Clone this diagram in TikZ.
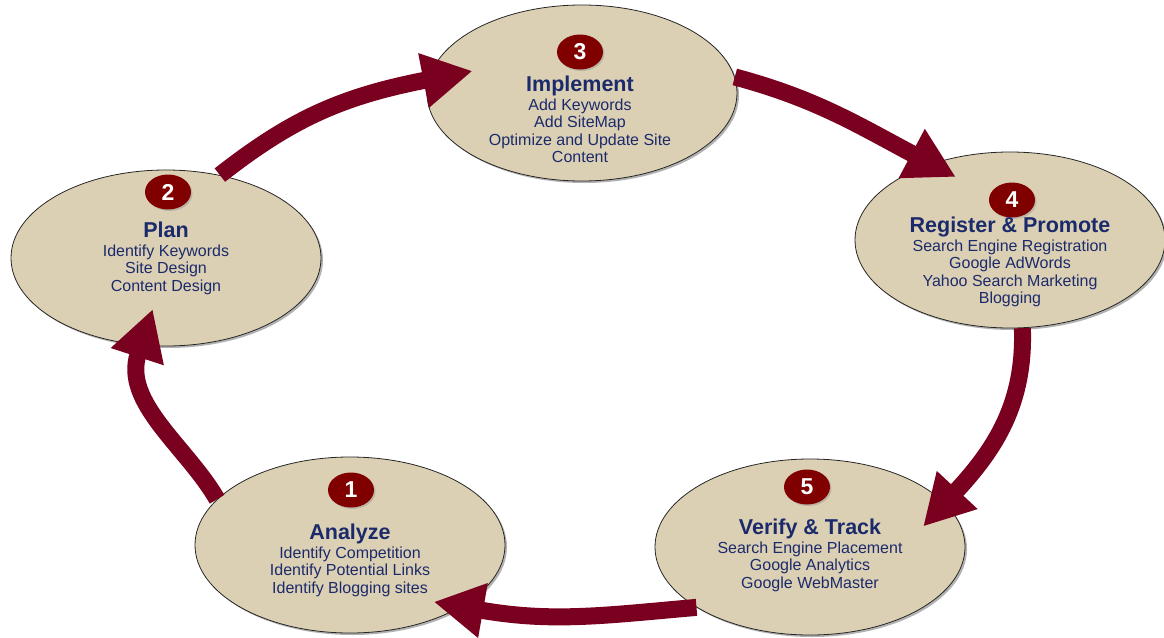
\documentclass[tikz,border=0pt]{standalone}
\usepackage{fontspec}
\setmainfont{Liberation Sans}
\usetikzlibrary{
    arrows.meta,
    shapes.geometric,
    shadows,
    positioning
}
\definecolor{stagebeige}{RGB}{220,208,180}
\definecolor{badgered}{RGB}{128,0,0}
\definecolor{textnavy}{RGB}{27,42,107}
\definecolor{arrowred}{RGB}{122,0,32}
\newcommand{\stagetitle}[1]{{\fontsize{21.5}{17.3}\selectfont\bfseries #1}}

\begin{document}
\begin{tikzpicture}[x=1pt, y=1pt,
    stage/.style={ellipse, draw=black!85, line width=0.8pt, fill=stagebeige,
        minimum width=310pt, minimum height=176pt, inner sep=0pt,
        drop shadow={shadow xshift=2pt, shadow yshift=-2pt, fill=black!60}},
    badge/.style={ellipse, fill=badgered, text=white, font=\fontsize{23}{23}\selectfont\bfseries,
        minimum width=46pt, minimum height=35pt, inner sep=0pt,
        drop shadow={shadow xshift=1.5pt, shadow yshift=-1.5pt, fill=black!40}},
    info/.style={anchor=north, align=center, inner sep=0pt, text=textnavy,
        font=\fontsize{16}{17.3}\selectfont},
    flow/.style={draw=arrowred, line width=17pt, -{Triangle[length=50pt, width=52pt]}}
]
    \useasboundingbox (0,0) rectangle (1164,-637);

    % the five stages
    \node[stage] (analyze) at (350,-545) {};
    \node[stage] (plan) at (166,-258) {};
    \node[stage] (implement) at (582,-93) {};
    \node[stage] (register) at (1010,-240) {};
    \node[stage] (verify) at (810,-547) {};

    \node[badge] (analyze badge) at (351,-490) {1};
    \node[badge] (plan badge) at (168,-192) {2};
    \node[badge] (implement badge) at (580,-52) {3};
    \node[badge] (register badge) at (1012,-200) {4};
    \node[badge] (verify badge) at (807,-487) {5};

    \node[info] (analyze text) at (350,-524) {\stagetitle{Analyze}\\[1.5pt]Identify Competition\\Identify Potential Links\\Identify Blogging sites};
    \node[info] (plan text) at (166,-222) {\stagetitle{Plan}\\[1.5pt]Identify Keywords\\Site Design\\Content Design};
    \node[info] (implement text) at (580,-76) {\stagetitle{Implement}\\[1.5pt]Add Keywords\\Add SiteMap\\Optimize and Update Site\\Content};
    \node[info] (register text) at (1010,-217) {\stagetitle{Register \& Promote}\\[1.5pt]Search Engine Registration\\Google AdWords\\Yahoo Search Marketing\\Blogging};
    \node[info] (verify text) at (810,-519) {\stagetitle{Verify \& Track}\\[1.5pt]Search Engine Placement\\Google Analytics\\Google WebMaster};

    % the cycle
    \draw[flow, shorten >=-38pt] (analyze.161) to[out=120, in=-108, looseness=0.9] (plan.-106);
    \draw[flow, shorten >=-45pt] (plan.57) to[out=38, in=191] (implement.175);
    \draw[flow, shorten >=-28pt] (implement.6) to[out=-15, in=152] (register.136);
    \draw[flow, shorten >=-32pt] (register.-82) to[out=-88, in=47] (verify.18);
    \draw[flow, shorten >=-28pt] (verify.208) to[out=185, in=-10] (analyze.-29);
\end{tikzpicture}
\end{document}
